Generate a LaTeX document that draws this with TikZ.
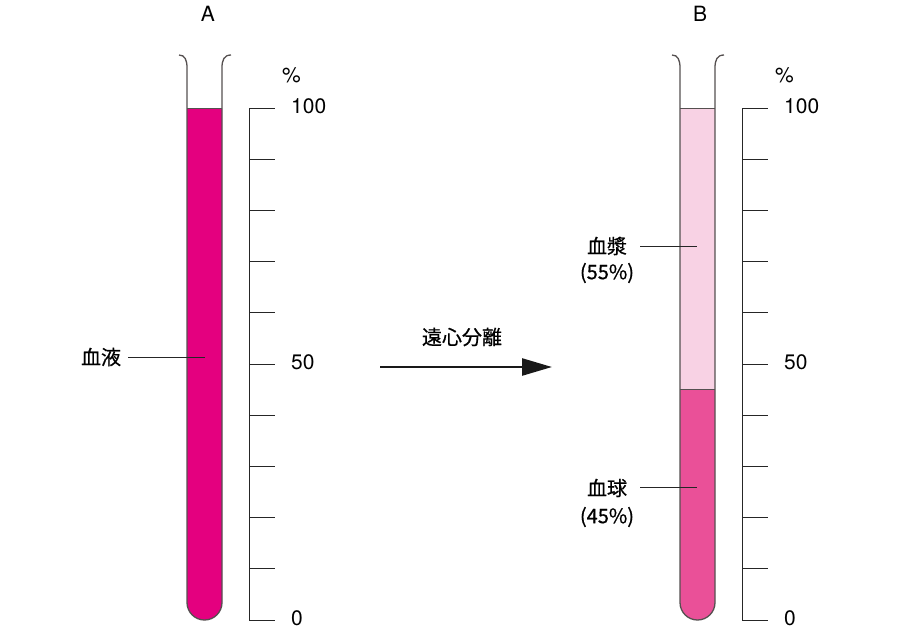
\documentclass[tikz,border=0pt]{standalone}
\usepackage{fontspec}
\setmainfont{TeX Gyre Heros}
\newfontfamily\jp[FakeBold=0.6]{Noto Sans CJK JP}
\usetikzlibrary{arrows.meta}
\definecolor{bloodA}{HTML}{E4007F}
\definecolor{plasmacol}{HTML}{F8D2E4}
\definecolor{cellcol}{HTML}{EA5098}
\definecolor{tubegray}{HTML}{555050}
\begin{document}
\begin{tikzpicture}[x=1pt,y=-1pt,
  font=\fontsize{21}{24}\selectfont,
  tubeline/.style={draw=tubegray, line width=1.3pt},
  scaleline/.style={draw=black!85, line width=1pt},
  leader/.style={draw=black!85, line width=0.9pt},
  lbl/.style={inner sep=0pt, anchor=west},
  clbl/.style={inner sep=0pt, font=\jp\fontsize{20}{22}\selectfont},
  title/.style={inner sep=0pt}]
\useasboundingbox (0,0) rectangle (900,630);
% ---- Tube A ----
\fill[bloodA] (187,108) -- (187,602.5) arc[start angle=180, end angle=0, radius=17.5] -- (222,108) -- cycle;
\draw[tubegray, line width=0.8pt] (187,108) -- (222,108);
\draw[tubeline] (179,55) .. controls (185,55) and (187,60) .. (187,68) -- (187,602.5) arc[start angle=180, end angle=0, radius=17.5] -- (222,68) .. controls (222,60) and (224,55) .. (231,55);
% ---- Tube B ----
\fill[plasmacol] (680,108) rectangle (715,389);
\fill[cellcol] (680,389) -- (680,602.5) arc[start angle=180, end angle=0, radius=17.5] -- (715,389) -- cycle;
\draw[tubegray, line width=0.8pt] (680,108) -- (715,108);
\draw[tubegray, line width=0.8pt] (680,389) -- (715,389);
\draw[tubeline] (672,55) .. controls (678,55) and (680,60) .. (680,68) -- (680,602.5) arc[start angle=180, end angle=0, radius=17.5] -- (715,68) .. controls (715,60) and (717,55) .. (724,55);
% ---- Scales ----
\draw[scaleline] (249,108) -- (249,620);
\draw[scaleline] (742,108) -- (742,620);
\foreach \i in {0,...,10}{
  \draw[scaleline] (249,108+51.2*\i) -- (275,108+51.2*\i);
  \draw[scaleline] (742,108+51.2*\i) -- (768,108+51.2*\i);
}
\node[lbl] (pctA) at (282,75) {\%};
\node[lbl] (hA) at (291,106) {100};
\node[lbl] (fA) at (291,362) {50};
\node[lbl] (zA) at (291,618) {0};
\node[lbl] (pctB) at (775,75) {\%};
\node[lbl] (hB) at (784,106) {100};
\node[lbl] (fB) at (784,362) {50};
\node[lbl] (zB) at (784,618) {0};
% ---- Titles ----
\node[title] (tA) at (208,14) {A};
\node[title] (tB) at (700,14) {B};
% ---- Labels A ----
\node[clbl] (blood) at (101,357) {血液};
\coordinate (bloodst) at (128,357);
\coordinate (bloodpt) at (205,357);
\draw[leader] (bloodst) -- (bloodpt);
% ---- Labels B ----
\node[clbl] (plas) at (607,246) {血漿};
\node[clbl] (plaspct) at (607,273) {(55\%)};
\coordinate (plasst) at (640,246);
\coordinate (plaspt) at (697,246);
\draw[leader] (plasst) -- (plaspt);
\node[clbl] (cell) at (607,488) {血球};
\node[clbl] (cellpct) at (607,517) {(45\%)};
\coordinate (cellst) at (640,487);
\coordinate (cellpt) at (697,487);
\draw[leader] (cellst) -- (cellpt);
% ---- Arrow ----
\coordinate (arS) at (380,367);
\coordinate (arE) at (552,367);
\draw[line width=2.5pt, black!90, -{Triangle[length=30pt,width=17pt]}] (arS) -- (arE);
\node[clbl] (cent) at (462,337) {遠心分離};
\end{tikzpicture}
\end{document}
